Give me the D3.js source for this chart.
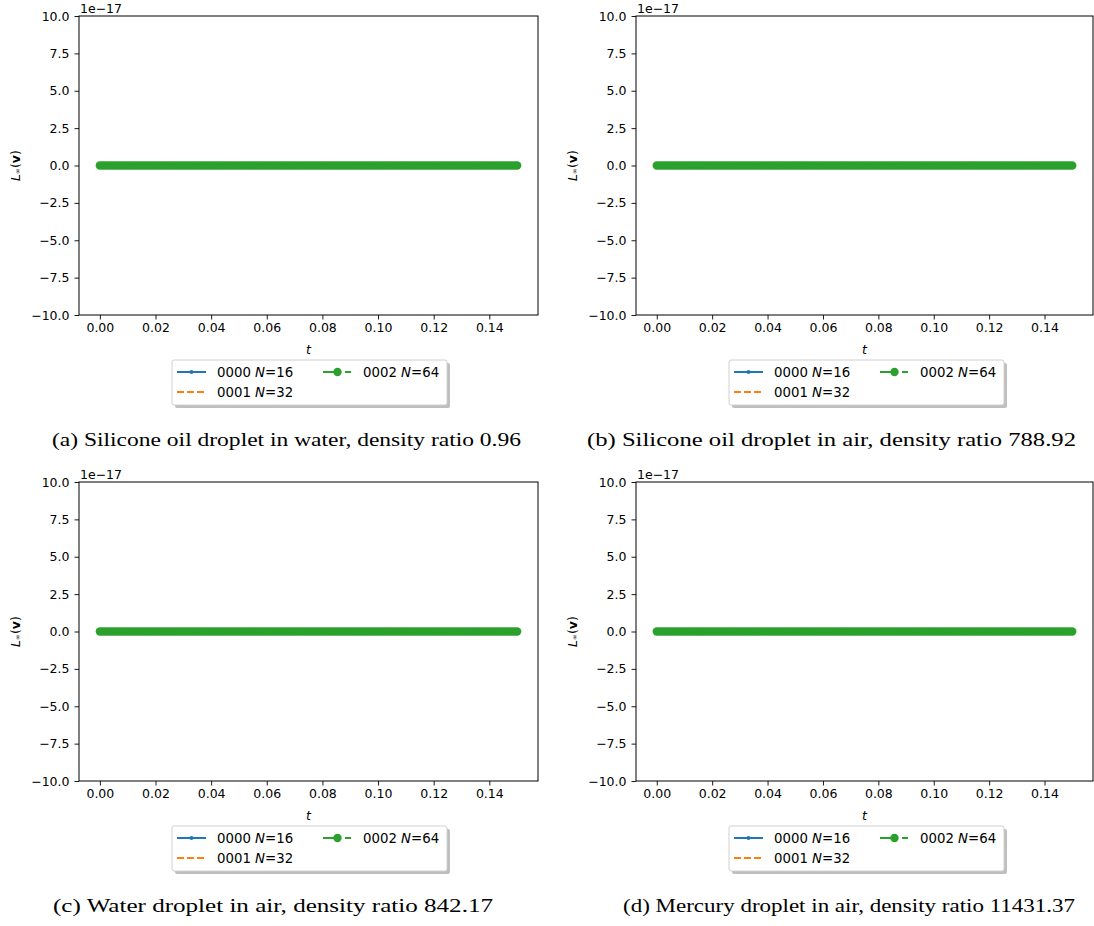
<!DOCTYPE html>
<html><head><meta charset="utf-8">
<script src="https://cdn.jsdelivr.net/npm/d3@7"></script>
<style>
body{margin:0;background:#fff}
svg{display:block}
text{font-family:"DejaVu Sans",sans-serif;fill:#000}
</style>
</head><body>
<svg id="chart" width="1094" height="926"></svg>
<script>
// ---- data ----
const times = [
0.000,0.001,0.002,0.003,0.004,0.005,0.006,0.007,0.008,0.009,
0.010,0.011,0.012,0.013,0.014,0.015,0.016,0.017,0.018,0.019,
0.020,0.021,0.022,0.023,0.024,0.025,0.026,0.027,0.028,0.029,
0.030,0.031,0.032,0.033,0.034,0.035,0.036,0.037,0.038,0.039,
0.040,0.041,0.042,0.043,0.044,0.045,0.046,0.047,0.048,0.049,
0.050,0.051,0.052,0.053,0.054,0.055,0.056,0.057,0.058,0.059,
0.060,0.061,0.062,0.063,0.064,0.065,0.066,0.067,0.068,0.069,
0.070,0.071,0.072,0.073,0.074,0.075,0.076,0.077,0.078,0.079,
0.080,0.081,0.082,0.083,0.084,0.085,0.086,0.087,0.088,0.089,
0.090,0.091,0.092,0.093,0.094,0.095,0.096,0.097,0.098,0.099,
0.100,0.101,0.102,0.103,0.104,0.105,0.106,0.107,0.108,0.109,
0.110,0.111,0.112,0.113,0.114,0.115,0.116,0.117,0.118,0.119,
0.120,0.121,0.122,0.123,0.124,0.125,0.126,0.127,0.128,0.129,
0.130,0.131,0.132,0.133,0.134,0.135,0.136,0.137,0.138,0.139,
0.140,0.141,0.142,0.143,0.144,0.145,0.146,0.147,0.148,0.149,
0.150];
const valuesN16 = [
0,0,0,0,0,0,0,0,0,0, 0,0,0,0,0,0,0,0,0,0, 0,0,0,0,0,0,0,0,0,0,
0,0,0,0,0,0,0,0,0,0, 0,0,0,0,0,0,0,0,0,0, 0,0,0,0,0,0,0,0,0,0,
0,0,0,0,0,0,0,0,0,0, 0,0,0,0,0,0,0,0,0,0, 0,0,0,0,0,0,0,0,0,0,
0,0,0,0,0,0,0,0,0,0, 0,0,0,0,0,0,0,0,0,0, 0,0,0,0,0,0,0,0,0,0,
0,0,0,0,0,0,0,0,0,0, 0,0,0,0,0,0,0,0,0,0, 0,0,0,0,0,0,0,0,0,0,
0];
const valuesN32 = [
0,0,0,0,0,0,0,0,0,0, 0,0,0,0,0,0,0,0,0,0, 0,0,0,0,0,0,0,0,0,0,
0,0,0,0,0,0,0,0,0,0, 0,0,0,0,0,0,0,0,0,0, 0,0,0,0,0,0,0,0,0,0,
0,0,0,0,0,0,0,0,0,0, 0,0,0,0,0,0,0,0,0,0, 0,0,0,0,0,0,0,0,0,0,
0,0,0,0,0,0,0,0,0,0, 0,0,0,0,0,0,0,0,0,0, 0,0,0,0,0,0,0,0,0,0,
0,0,0,0,0,0,0,0,0,0, 0,0,0,0,0,0,0,0,0,0, 0,0,0,0,0,0,0,0,0,0,
0];
const valuesN64 = [
0,0,0,0,0,0,0,0,0,0, 0,0,0,0,0,0,0,0,0,0, 0,0,0,0,0,0,0,0,0,0,
0,0,0,0,0,0,0,0,0,0, 0,0,0,0,0,0,0,0,0,0, 0,0,0,0,0,0,0,0,0,0,
0,0,0,0,0,0,0,0,0,0, 0,0,0,0,0,0,0,0,0,0, 0,0,0,0,0,0,0,0,0,0,
0,0,0,0,0,0,0,0,0,0, 0,0,0,0,0,0,0,0,0,0, 0,0,0,0,0,0,0,0,0,0,
0,0,0,0,0,0,0,0,0,0, 0,0,0,0,0,0,0,0,0,0, 0,0,0,0,0,0,0,0,0,0,
0];
const seriesIds = ["0000", "0001", "0002"];
const seriesN = [16, 32, 64];
const xTicks = [0.00, 0.02, 0.04, 0.06, 0.08, 0.10, 0.12, 0.14];
const yTicks = [-10.0, -7.5, -5.0, -2.5, 0.0, 2.5, 5.0, 7.5, 10.0];
const yOffsetLabel = "1e\u221217";
const captions = [
  "(a) Silicone oil droplet in water, density ratio 0.96",
  "(b) Silicone oil droplet in air, density ratio 788.92",
  "(c) Water droplet in air, density ratio 842.17",
  "(d) Mercury droplet in air, density ratio 11431.37"
];

// ---- layout / style ----
const colors = ["#1f77b4", "#ff7f0e", "#2ca02c"];
const panels = [
  {x0: 79,  y0: 16,  w: 459, h: 299, capX: 52,  capW: 469},
  {x0: 636, y0: 16,  w: 457, h: 299, capX: 587, capW: 489},
  {x0: 79,  y0: 482, w: 459, h: 299, capX: 53,  capW: 440},
  {x0: 636, y0: 482, w: 457, h: 299, capX: 623, capW: 452}
];
const seriesValues = [valuesN16, valuesN32, valuesN64];
const FS = 12.5;
const LFS = 13.3;

const svg = d3.select("#chart");
const fmtX = d3.format(".2f");
const fmtY = v => d3.format(".1f")(v).replace("-", "\u2212");

panels.forEach((p, pi) => {
  const g = svg.append("g").attr("transform", `translate(${p.x0},${p.y0})`);
  const x = d3.scaleLinear().domain([-0.0075, 0.1575]).range([0, p.w]);
  const y = d3.scaleLinear().domain([-10, 10]).range([p.h, 0]);

  // x axis
  const xa = g.append("g").attr("transform", `translate(0,${p.h})`)
    .call(d3.axisBottom(x).tickValues(xTicks).tickFormat(fmtX).tickSizeInner(4.5).tickSizeOuter(0).tickPadding(4));
  xa.select(".domain").remove();
  xa.selectAll("line").attr("stroke", "#000").attr("stroke-width", 0.9);
  xa.selectAll("text").attr("font-size", FS).attr("font-family", "DejaVu Sans").attr("fill", "#000");

  // y axis
  const ya = g.append("g")
    .call(d3.axisLeft(y).tickValues(yTicks).tickFormat(fmtY).tickSizeInner(4.5).tickSizeOuter(0).tickPadding(5));
  ya.select(".domain").remove();
  ya.selectAll("line").attr("stroke", "#000").attr("stroke-width", 0.9);
  ya.selectAll("text").attr("font-size", FS).attr("font-family", "DejaVu Sans").attr("fill", "#000");

  // offset text
  g.append("text").attr("x", 1).attr("y", -3).attr("font-size", FS).text(yOffsetLabel);

  // axis labels
  g.append("text").attr("x", p.w / 2).attr("y", p.h + 39).attr("text-anchor", "middle")
    .attr("font-size", FS).attr("font-style", "italic").text("t");
  const yl = g.append("text")
    .attr("transform", `translate(-64,${p.h / 2}) rotate(-90)`)
    .attr("text-anchor", "middle").attr("dominant-baseline", "central")
    .attr("font-size", FS);
  yl.append("tspan").attr("font-style", "italic").text("L");
  yl.append("tspan").attr("font-size", 7).attr("dy", 3).text("\u221E");
  yl.append("tspan").attr("dy", -3).text("(");
  yl.append("tspan").attr("font-weight", "bold").text("v");
  yl.append("tspan").text(")");

  // data
  const plot = g.append("g");
  const line = d3.line().x(d => x(d[0])).y(d => y(d[1]));
  seriesValues.forEach((vals, si) => {
    const pts = times.map((t, i) => [t, vals[i]]);
    const path = plot.append("path").datum(pts).attr("d", line)
      .attr("fill", "none").attr("stroke", colors[si]).attr("stroke-width", 2);
    if (si === 1 || si === 2) path.attr("stroke-dasharray", "7,3");
    if (si === 0) {
      plot.append("g").selectAll("circle").data(pts).join("circle")
        .attr("cx", d => x(d[0])).attr("cy", d => y(d[1])).attr("r", 2).attr("fill", colors[0]);
    }
    if (si === 2) {
      plot.append("g").selectAll("circle").data(pts).join("circle")
        .attr("cx", d => x(d[0])).attr("cy", d => y(d[1])).attr("r", 4.2).attr("fill", colors[2]);
    }
  });

  // frame
  g.append("rect").attr("x", 0).attr("y", 0).attr("width", p.w).attr("height", p.h)
    .attr("fill", "none").attr("stroke", "#000").attr("stroke-width", 1);

  // legend
  const lg = g.append("g").attr("transform", `translate(93,344)`);
  const LW = 275, LH = 45;
  lg.append("rect").attr("x", 3).attr("y", 3).attr("width", LW).attr("height", LH)
    .attr("rx", 2).attr("fill", "#7f7f7f").attr("opacity", 0.5);
  lg.append("rect").attr("x", 0).attr("y", 0).attr("width", LW).attr("height", LH)
    .attr("rx", 2).attr("fill", "#fff").attr("stroke", "#d0d0d0").attr("stroke-width", 1);
  const entries = [
    {si: 0, hx: 5,   ty: 12},
    {si: 1, hx: 5,   ty: 32},
    {si: 2, hx: 151, ty: 12}
  ];
  entries.forEach(e => {
    const c = colors[e.si];
    const hl = lg.append("line").attr("x1", e.hx).attr("x2", e.hx + 29)
      .attr("y1", e.ty).attr("y2", e.ty).attr("stroke", c).attr("stroke-width", 2);
    if (e.si === 1) hl.attr("stroke-dasharray", "7,3");
    if (e.si === 2) hl.attr("stroke-dasharray", "18,4,6,4");
    if (e.si === 0) lg.append("circle").attr("cx", e.hx + 14.5).attr("cy", e.ty).attr("r", 2).attr("fill", c);
    if (e.si === 2) lg.append("circle").attr("cx", e.hx + 14.5).attr("cy", e.ty).attr("r", 4.2).attr("fill", c);
    const t = lg.append("text").attr("x", e.hx + 40).attr("y", e.ty).attr("dominant-baseline", "central")
      .attr("font-size", LFS);
    t.append("tspan").text(seriesIds[e.si] + " ");
    t.append("tspan").attr("font-style", "italic").text("N");
    t.append("tspan").text("=" + seriesN[e.si]);
  });

  // caption
  svg.append("text").attr("x", p.capX).attr("y", p.y0 + 430)
    .attr("font-size", 19)
    .attr("textLength", p.capW).attr("lengthAdjust", "spacingAndGlyphs")
    .style("font-family", "'Liberation Serif', serif")
    .text(captions[pi]);
});
</script>
</body></html>
